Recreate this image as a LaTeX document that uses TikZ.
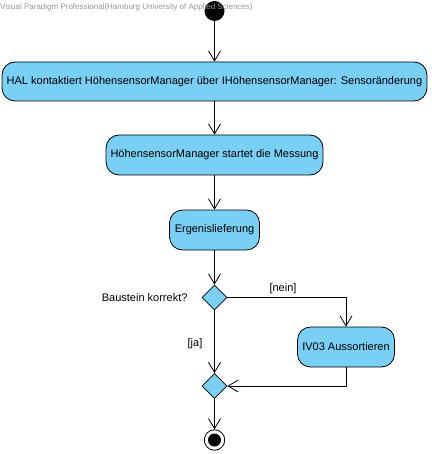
\documentclass[tikz,border=0pt]{standalone}
\usepackage{fontspec}
\setmainfont{Liberation Sans}
\usetikzlibrary{arrows.meta,shapes.geometric}
\definecolor{actblue}{RGB}{122,207,245}
\definecolor{vpgray}{RGB}{150,150,150}
\begin{document}
\begin{tikzpicture}[x=1pt,y=-1pt,
    action/.style={shape=rectangle, rounded corners=13pt, draw=black, fill=actblue, line width=0.8pt, minimum height=40pt, inner sep=0pt, font=\fontsize{11}{13}\selectfont},
    decision/.style={shape=diamond, draw=black, fill=actblue, line width=0.8pt, minimum width=25pt, minimum height=25pt, inner sep=0pt},
    flow/.style={line width=0.8pt, -{Straight Barb[length=10pt,width=12pt]}},
    guard/.style={font=\fontsize{11}{13}\selectfont}]
  \useasboundingbox (0,0) rectangle (431,454);
  \path (214.5, 11) node [shape=circle, fill=black, minimum size=20pt, inner sep=0pt] (start) {}
        (214.5, 81.5) node [action, minimum width=425pt, minimum height=39pt] (hal) {HAL kontaktiert HöhensensorManager über IHöhensensorManager: Sensoränderung}
        (214.5, 155) node [action, minimum width=217pt] (mess) {HöhensensorManager startet die Messung}
        (214.5, 230) node [action, minimum width=90pt] (erg) {Ergenislieferung}
        (214.5, 297.5) node [decision] (check) {}
        (346, 347) node [action, minimum width=97pt] (auss) {IV03 Aussortieren}
        (214.5, 386) node [decision] (merge) {}
        (214.5, 440) node [shape=circle, draw=black, line width=0.8pt, minimum size=20.5pt, inner sep=0pt] (final) {}
  ;
  \node [shape=circle, fill=black, minimum size=13pt, inner sep=0pt] (finaldot) at (final) {};
  \node [anchor=west, text=vpgray, font=\fontsize{8}{9}\selectfont, inner sep=0pt] (vp) at (0,7) {Visual Paradigm Professional(Hamburg University of Applied Sciences)};
  \node [guard, anchor=east] (frage) at (191, 297.5) {Baustein korrekt?};
  \node [guard] (nein) at (283, 289) {[nein]};
  \node [guard] (ja) at (195, 344) {[ja]};

  \draw [flow] (start) -- (hal);
  \draw [flow] (hal) -- (mess);
  \draw [flow] (mess) -- (erg);
  \draw [flow] (erg) -- (check);
  \draw [flow] (check.east) -| (auss.north);
  \draw [flow] (check) -- (merge);
  \draw [flow] (auss.south) |- (merge.east);
  \draw [flow] (merge) -- (final);
\end{tikzpicture}
\end{document}
